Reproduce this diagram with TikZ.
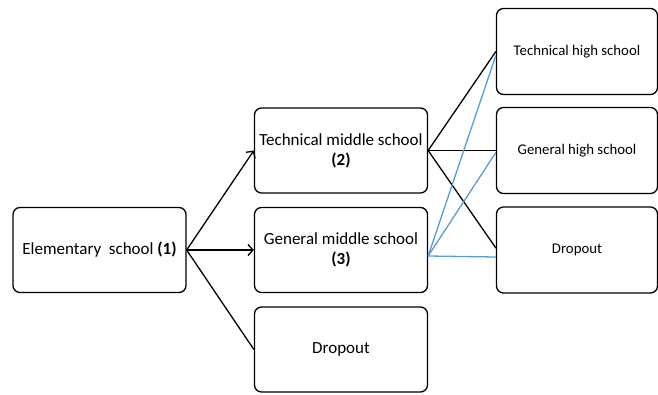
\documentclass[tikz,border=0pt]{standalone}
\usepackage{fontspec}
\setmainfont{Carlito}
\usepackage{tikz}
\usetikzlibrary{arrows.meta}

\definecolor{lineblue}{RGB}{91,155,213}

\begin{document}
\begin{tikzpicture}[x=1pt,y=-1pt,
    box/.style={draw,rounded corners=7pt,line width=1.3pt,minimum width=173pt,
      minimum height=85pt,align=center,font=\fontsize{17}{20}\selectfont},
    hbox/.style={box,minimum width=161pt,minimum height=86pt,font=\fontsize{14.8}{17}\selectfont},
    link/.style={line width=1.3pt},
    bluelink/.style={line width=1.3pt,lineblue},
    tip/.style={-{Straight Barb[length=5pt,width=11pt]}}]
      \useasboundingbox (0,0) rectangle (658,394);

      \node[box] (1) at (99.5,250) {Elementary\ \ school \textbf{(1)}};
      \node[box] (2) at (341,150.5) {Technical middle school\\ \textbf{(2)}};
      \node[box] (3) at (341,250) {General middle school\\ \textbf{(3)}};
      \node[box] (d1) at (341,349.5) {Dropout};

      \node[hbox] (th) at (577,51.5) {Technical high school};
      \node[hbox] (gh) at (577,150.5) {General high school};
      \node[hbox] (d2) at (577,250) {Dropout};

      \draw[link,tip] (1.east) -- (2.west);
      \draw[link,tip] (1.east) -- (3.west);
      \draw[link] (1.east) -- (d1.west);

      \draw[link] (2.east) -- (th.west);
      \draw[link] (2.east) -- (gh.west);
      \draw[link] (2.east) -- ([yshift=2pt]d2.west);

      \draw[bluelink] ([yshift=-6pt]3.east) -- ([yshift=-4pt]th.west);
      \draw[bluelink] ([yshift=-6pt]3.east) -- ([yshift=-2pt]gh.west);
      \draw[bluelink] ([yshift=-6pt]3.east) -- ([yshift=-7pt]d2.west);
    \end{tikzpicture}
\end{document}
